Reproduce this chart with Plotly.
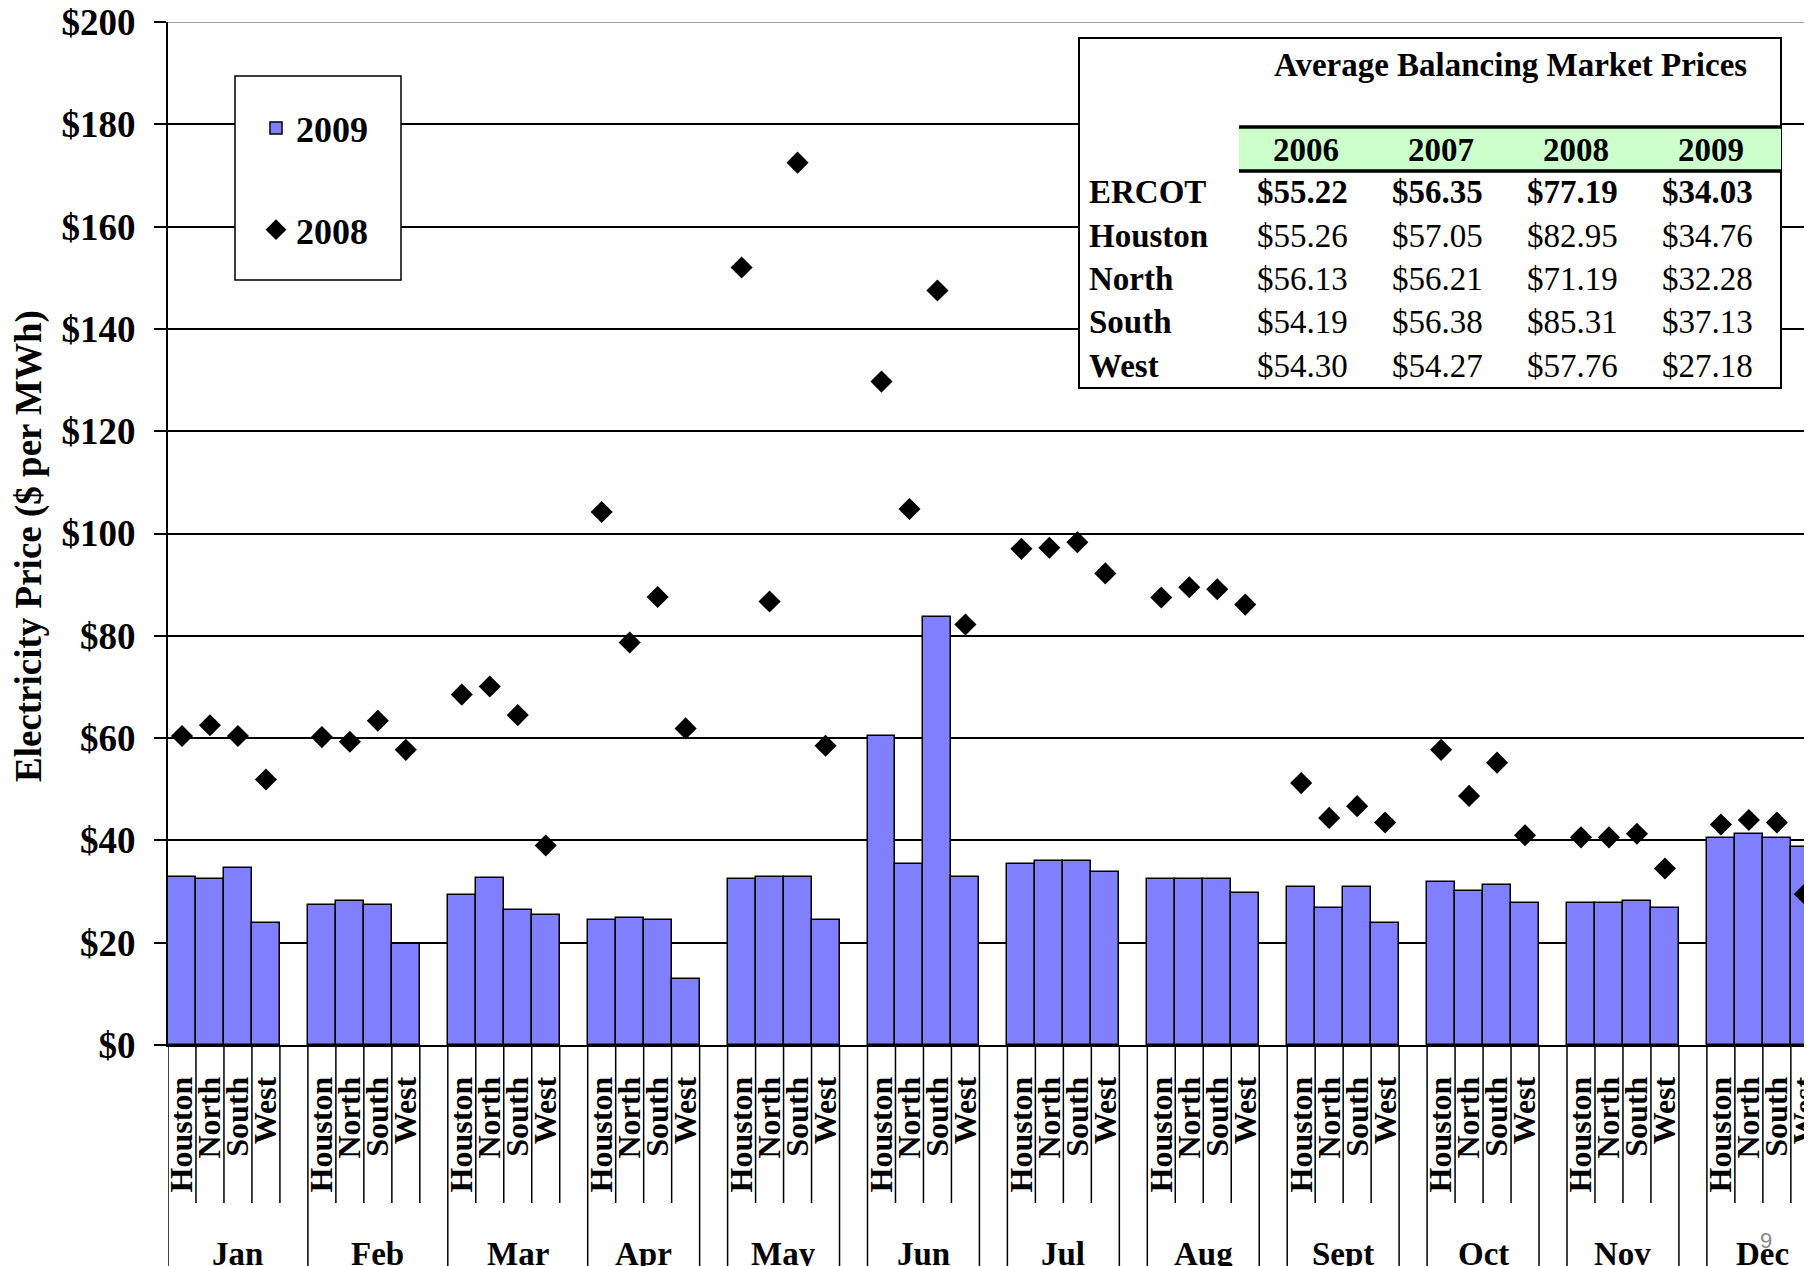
import plotly.graph_objects as go

# ---------------- data ----------------
months = ["Jan", "Feb", "Mar", "Apr", "May", "Jun", "Jul", "Aug", "Sept", "Oct", "Nov", "Dec"]
regions = ["Houston", "North", "South", "West"]

# 2009 monthly prices by region ($/MWh)
p2009_houston = [32.9, 27.3, 29.3, 24.4, 32.5, 60.5, 35.4, 32.5, 30.9, 31.8, 27.7, 40.4]
p2009_north = [32.5, 28.2, 32.7, 24.8, 32.9, 35.4, 35.9, 32.5, 26.8, 30.2, 27.7, 41.3]
p2009_south = [34.7, 27.3, 26.4, 24.4, 32.9, 83.6, 35.9, 32.5, 30.9, 31.3, 28.2, 40.4]
p2009_west = [23.9, 19.8, 25.5, 12.9, 24.4, 32.9, 33.8, 29.8, 23.9, 27.7, 26.8, 38.8]

# 2008 monthly prices by region ($/MWh)
p2008_houston = [60.4, 60.2, 68.5, 104.2, 152.0, 129.7, 97.0, 87.5, 51.2, 57.7, 40.6, 43.1]
p2008_north = [62.5, 59.3, 70.1, 78.7, 86.7, 104.8, 97.2, 89.5, 44.4, 48.7, 40.6, 44.0]
p2008_south = [60.4, 63.4, 64.5, 87.6, 172.5, 147.5, 98.3, 89.1, 46.7, 55.2, 41.3, 43.5]
p2008_west = [51.9, 57.7, 39.0, 61.9, 58.5, 82.2, 92.2, 86.1, 43.5, 41.0, 34.5, 29.5]

# Average balancing market prices table
table_title = "Average Balancing Market Prices"
table_years = ["2006", "2007", "2008", "2009"]
table_rows = ["ERCOT", "Houston", "North", "South", "West"]
avg_2006 = [55.22, 55.26, 56.13, 54.19, 54.30]
avg_2007 = [56.35, 57.05, 56.21, 56.38, 54.27]
avg_2008 = [77.19, 82.95, 71.19, 85.31, 57.76]
avg_2009 = [34.03, 34.76, 32.28, 37.13, 27.18]

y_ticks = [0, 20, 40, 60, 80, 100, 120, 140, 160, 180, 200]

# ---------------- layout geometry ----------------
# (page is shown with an 8px body margin, so screen px = figure px + 8)
W, H = 1812, 1266
OFF = 8
ML, MR, MT, MB = 160, 0, 14, 229
PW, PH = W - ML - MR, H - MT - MB
PLOT_LEFT_S, PLOT_BOTTOM_S = ML + OFF, H - MB + OFF


def px_x(sx):
    return (sx - PLOT_LEFT_S) / PW


def px_y(sy):
    return (PLOT_BOTTOM_S - sy) / PH


SERIF = "Liberation Serif"
BAR_COLOR = "#8080FF"

by_region_2009 = [p2009_houston, p2009_north, p2009_south, p2009_west]
by_region_2008 = [p2008_houston, p2008_north, p2008_south, p2008_west]

slots = len(regions) + 1  # four bars + one gap per month
xs, labels, v09, v08 = [], [], [], []
for m in range(len(months)):
    for r in range(len(regions)):
        xs.append(m * slots + r)
        labels.append(regions[r])
        v09.append(by_region_2009[r][m])
        v08.append(by_region_2008[r][m])

SLOT_PX = 27.98
x_end = -0.5 + PW / SLOT_PX

fig = go.Figure()
fig.add_trace(go.Bar(
    x=xs, y=v09, width=1, name="2009", legendgroup="g2009",
    marker=dict(color=BAR_COLOR, line=dict(color="black", width=1.5)),
))
fig.add_trace(go.Scatter(
    x=xs, y=v08, mode="markers", name="2008", legendgroup="g2008",
    marker=dict(symbol="diamond", size=17, color="black", line=dict(width=0)),
))

shapes = []
annotations = []

# separators below the category axis
short_end = px_y(1203)
long_end = px_y(H + 20)
for m in range(len(months)):
    base = m * slots
    shapes.append(dict(type="line", xref="x", yref="paper", x0=base - 0.5, x1=base - 0.5,
                       y0=0, y1=long_end, line=dict(color="black", width=1.5)))
    for r in range(1, len(regions)):
        xx = base + r - 0.5
        shapes.append(dict(type="line", xref="x", yref="paper", x0=xx, x1=xx,
                           y0=0, y1=short_end, line=dict(color="black", width=1.5)))
    right = base + len(regions) - 0.5
    long_right = m >= 3
    shapes.append(dict(type="line", xref="x", yref="paper", x0=right, x1=right,
                       y0=0, y1=long_end if long_right else short_end,
                       line=dict(color="black", width=1.5)))
    center = (base - 0.5 + right) / 2 if long_right else base - 0.5 + slots / 2
    annotations.append(dict(xref="x", yref="paper", x=center, y=px_y(1254),
                            text="<b>%s</b>" % months[m], showarrow=False,
                            xanchor="center", yanchor="middle",
                            font=dict(family=SERIF, size=33, color="black")))

# grey top gridline
shapes.append(dict(type="line", xref="paper", yref="y", x0=0, x1=1, y0=200, y1=200,
                   line=dict(color="#a0a0a0", width=2), layer="above"))

# legend box
shapes.append(dict(type="rect", xref="paper", yref="paper",
                   x0=px_x(235), x1=px_x(401), y0=px_y(280), y1=px_y(76),
                   fillcolor="white", line=dict(color="black", width=1.5), layer="above"))

# table box
tx0, tx1, ty0, ty1 = 1079, 1781, 38, 388
shapes.append(dict(type="rect", xref="paper", yref="paper",
                   x0=px_x(tx0), x1=px_x(tx1), y0=px_y(ty1), y1=px_y(ty0),
                   fillcolor="white", line=dict(color="black", width=2), layer="above"))
hx0, hy0, hy1 = 1239, 127, 171
shapes.append(dict(type="rect", xref="paper", yref="paper",
                   x0=px_x(hx0), x1=px_x(tx1), y0=px_y(hy1), y1=px_y(hy0),
                   fillcolor="#ccffcc", line=dict(width=0), layer="above"))
for yy in (hy0, hy1):
    shapes.append(dict(type="line", xref="paper", yref="paper",
                       x0=px_x(hx0), x1=px_x(tx1), y0=px_y(yy), y1=px_y(yy),
                       line=dict(color="black", width=3.5), layer="above"))

TFS = 33
annotations.append(dict(xref="paper", yref="paper", x=px_x(1510), y=px_y(65),
                        text="<b>%s</b>" % table_title, showarrow=False,
                        xanchor="center", yanchor="middle",
                        font=dict(family=SERIF, size=TFS, color="black")))
col_x = [1302, 1437, 1572, 1707]
for j, yr in enumerate(table_years):
    annotations.append(dict(xref="paper", yref="paper", x=px_x(col_x[j] + 4), y=px_y(150),
                            text="<b>%s</b>" % yr, showarrow=False,
                            xanchor="center", yanchor="middle",
                            font=dict(family=SERIF, size=TFS, color="black")))
cols = [avg_2006, avg_2007, avg_2008, avg_2009]
row_y = [192, 236, 279, 322, 366]
for i, name in enumerate(table_rows):
    annotations.append(dict(xref="paper", yref="paper", x=px_x(1087), y=px_y(row_y[i]),
                            text="<b>%s</b>" % name, showarrow=False,
                            xanchor="left", yanchor="middle",
                            font=dict(family=SERIF, size=TFS, color="black")))
    for j, col in enumerate(cols):
        txt = "$%.2f" % col[i]
        if i == 0:
            txt = "<b>%s</b>" % txt
        annotations.append(dict(xref="paper", yref="paper", x=px_x(col_x[j]), y=px_y(row_y[i]),
                                text=txt, showarrow=False,
                                xanchor="center", yanchor="middle",
                                font=dict(family=SERIF, size=TFS, color="black")))

# y-axis title
annotations.append(dict(xref="paper", yref="paper", x=px_x(29), y=px_y(546),
                        text="<b>Electricity Price ($ per MWh)</b>", showarrow=False,
                        textangle=-90, xanchor="center", yanchor="middle",
                        font=dict(family=SERIF, size=37, color="black")))
# page number
annotations.append(dict(xref="paper", yref="paper", x=px_x(1766), y=px_y(1240),
                        text="9", showarrow=False, xanchor="center", yanchor="middle",
                        font=dict(family="Liberation Sans", size=22, color="#888888")))

fig.update_layout(
    width=W, height=H,
    margin=dict(l=ML, r=MR, t=MT, b=MB, pad=0),
    paper_bgcolor="white", plot_bgcolor="white",
    showlegend=True,
    bargap=0,
    legend=dict(x=px_x(256), y=px_y(98), xanchor="left", yanchor="top",
                bgcolor="rgba(0,0,0,0)", borderwidth=0,
                font=dict(family=SERIF, size=36, color="black", weight="bold"),
                tracegroupgap=52, traceorder="grouped"),
    xaxis=dict(range=[-0.5, x_end], tickmode="array", tickvals=xs, ticktext=labels,
               tickangle=-90, ticks="", showgrid=False, zeroline=False,
               showline=True, linecolor="black", linewidth=2,
               tickfont=dict(family=SERIF, size=32, color="black", weight="bold"),
               ticklabelstandoff=17, ticklabeloverflow="allow",
               automargin=False, fixedrange=True),
    yaxis=dict(range=[0, 200], tickmode="array", tickvals=y_ticks,
               ticktext=["$%d" % v for v in y_ticks],
               showgrid=True, gridcolor="black", gridwidth=1.5,
               ticks="outside", ticklen=12, tickwidth=1.5, tickcolor="black",
               showline=True, linecolor="black", linewidth=2, zeroline=False,
               tickfont=dict(family=SERIF, size=37, color="black", weight="bold"),
               ticklabelstandoff=11, ticklabeloverflow="allow",
               automargin=False, fixedrange=True),
    shapes=shapes,
    annotations=annotations,
)

fig.write_html("out.html")
